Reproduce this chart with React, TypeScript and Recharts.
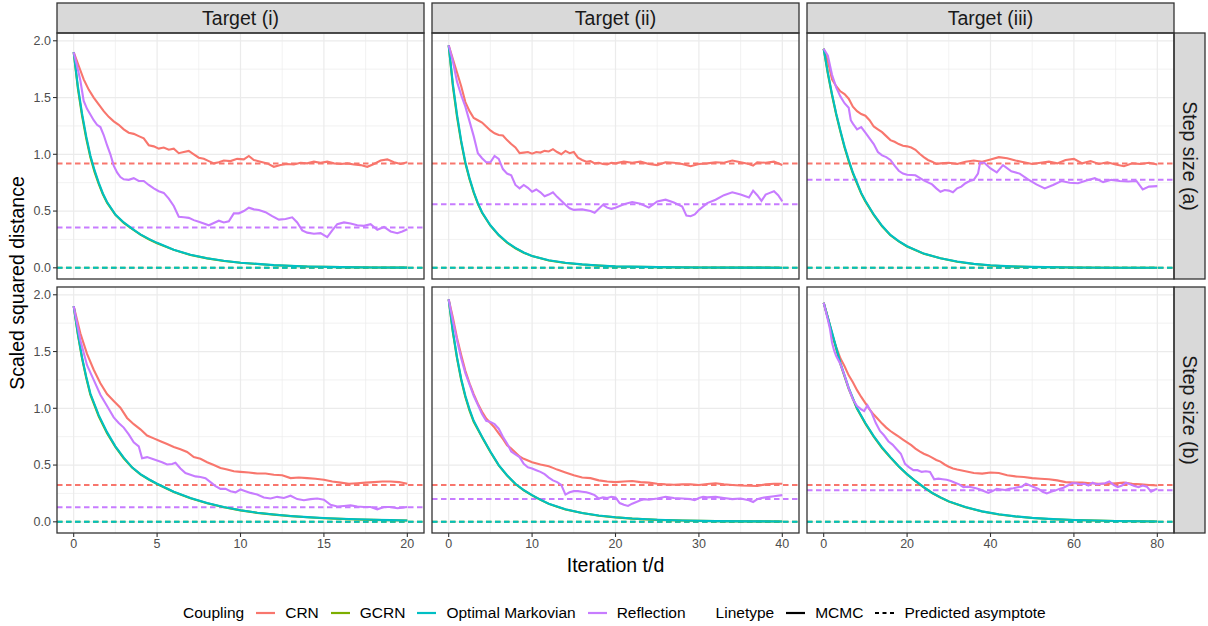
import React from 'react';
import { LineChart, Line, XAxis, YAxis, CartesianGrid, ReferenceLine } from 'recharts';

const FONT = '"Liberation Sans", Arial, Helvetica, sans-serif';

// ---------- labels ----------
const TARGETS = ['Target (i)', 'Target (ii)', 'Target (iii)'];
const STEP_SIZES = ['Step size (a)', 'Step size (b)'];
const COUPLINGS = ['CRN', 'GCRN', 'Optimal Markovian', 'Reflection'];
const COUPLING_COLORS = ['#F8766D', '#7CAE00', '#00BFC4', '#C77CFF'];
const LINETYPES = ['MCMC', 'Predicted asymptote'];
const X_TITLE = 'Iteration t/d';
const Y_TITLE = 'Scaled squared distance';

// ---------- axes ----------
const X_DOMAINS = [[-1, 21], [-2, 42], [-4, 84]];
const X_TICKS = [[0, 5, 10, 15, 20], [0, 10, 20, 30, 40], [0, 20, 40, 60, 80]];
const X_MINOR = [[2.5, 7.5, 12.5, 17.5], [5, 15, 25, 35], [10, 30, 50, 70]];
const Y_DOMAIN = [-0.0985, 2.0685];
const Y_TICKS = [0, 0.5, 1, 1.5, 2];
const Y_MINOR = [0.25, 0.75, 1.25, 1.75];

// ---------- predicted asymptotes (CRN, GCRN, Optimal Markovian, Reflection) ----------
const ASYM_A = [[0.92, 0, 0, 0.355], [0.92, 0, 0, 0.56], [0.92, 0, 0, 0.775]];
const ASYM_B = [[0.325, 0, 0, 0.128], [0.325, 0, 0, 0.2], [0.325, 0, 0, 0.278]];

// ---------- smooth couplings (GCRN / Optimal Markovian) ----------
const T_S_I_A = [0, 0.25, 0.5, 0.75, 1, 1.25, 1.5, 1.75, 2, 2.5, 3, 3.5, 4, 4.5, 5, 6, 7, 8, 9, 10, 12, 14, 16, 18, 20];
const OM_I_A = [1.9, 1.6, 1.36, 1.16, 0.99, 0.86, 0.75, 0.655, 0.58, 0.47, 0.4, 0.345, 0.295, 0.255, 0.22, 0.16, 0.115, 0.085, 0.062, 0.045, 0.024, 0.012, 0.006, 0.003, 0.002];
const GCRN_I_A = [1.9, 1.58, 1.34, 1.14, 0.975, 0.845, 0.74, 0.648, 0.574, 0.466, 0.396, 0.342, 0.292, 0.252, 0.217, 0.158, 0.113, 0.083, 0.06, 0.044, 0.023, 0.011, 0.006, 0.003, 0.002];

const T_S_II_A = [0, 0.5, 1, 1.5, 2, 2.5, 3, 3.5, 4, 5, 6, 7, 8, 9, 10, 12, 14, 16, 18, 20, 25, 30, 35, 40];
const OM_II_A = [1.96, 1.62, 1.35, 1.12, 0.93, 0.79, 0.67, 0.57, 0.49, 0.375, 0.29, 0.225, 0.175, 0.135, 0.105, 0.066, 0.044, 0.03, 0.02, 0.013, 0.006, 0.003, 0.002, 0.001];
const GCRN_II_A = [1.96, 1.6, 1.33, 1.105, 0.92, 0.78, 0.662, 0.564, 0.485, 0.371, 0.287, 0.222, 0.172, 0.133, 0.103, 0.065, 0.043, 0.029, 0.019, 0.012, 0.006, 0.003, 0.002, 0.001];

const T_S_III_A = [0, 1, 2, 3, 4, 5, 6, 7, 8, 9, 10, 12, 14, 16, 18, 20, 24, 28, 32, 36, 40, 45, 50, 60, 70, 80];
const OM_III_A = [1.93, 1.72, 1.53, 1.36, 1.21, 1.07, 0.95, 0.84, 0.75, 0.66, 0.59, 0.47, 0.37, 0.29, 0.235, 0.19, 0.125, 0.085, 0.055, 0.035, 0.022, 0.013, 0.008, 0.003, 0.001, 0];
const GCRN_III_A = [1.93, 1.71, 1.52, 1.35, 1.2, 1.06, 0.94, 0.832, 0.742, 0.655, 0.585, 0.466, 0.366, 0.287, 0.232, 0.188, 0.124, 0.084, 0.054, 0.034, 0.021, 0.012, 0.007, 0.003, 0.001, 0];

const T_S_I_B = [0, 0.25, 0.5, 0.75, 1, 1.5, 2, 2.5, 3, 3.5, 4, 4.5, 5, 6, 7, 8, 9, 10, 11, 12, 13, 14, 15, 16, 17, 18, 19, 20];
const OM_I_B = [1.9, 1.66, 1.45, 1.28, 1.13, 0.94, 0.79, 0.665, 0.565, 0.48, 0.42, 0.375, 0.335, 0.265, 0.21, 0.165, 0.13, 0.102, 0.08, 0.064, 0.051, 0.041, 0.033, 0.027, 0.022, 0.018, 0.015, 0.012];
const GCRN_I_B = [1.9, 1.65, 1.44, 1.27, 1.12, 0.93, 0.78, 0.66, 0.56, 0.478, 0.418, 0.373, 0.333, 0.263, 0.208, 0.164, 0.129, 0.101, 0.079, 0.063, 0.05, 0.04, 0.032, 0.026, 0.021, 0.017, 0.014, 0.011];

const T_S_II_B = [0, 0.5, 1, 1.5, 2, 2.5, 3, 4, 5, 6, 7, 8, 9, 10, 11, 12, 13, 14, 16, 18, 20, 22, 25, 28, 32, 36, 40];
const OM_II_B = [1.96, 1.68, 1.45, 1.26, 1.11, 0.99, 0.89, 0.75, 0.62, 0.5, 0.41, 0.335, 0.28, 0.235, 0.195, 0.16, 0.135, 0.11, 0.078, 0.055, 0.04, 0.029, 0.018, 0.011, 0.006, 0.004, 0.003];
const GCRN_II_B = [1.96, 1.67, 1.44, 1.25, 1.1, 0.98, 0.88, 0.745, 0.615, 0.497, 0.407, 0.333, 0.278, 0.233, 0.193, 0.158, 0.133, 0.109, 0.077, 0.054, 0.039, 0.028, 0.017, 0.011, 0.006, 0.004, 0.003];

const T_S_III_B = [0, 2, 4, 6, 8, 10, 12, 14, 16, 18, 20, 22, 24, 26, 28, 30, 34, 38, 42, 46, 50, 55, 60, 65, 70, 75, 80];
const OM_III_B = [1.93, 1.67, 1.4, 1.18, 1.0, 0.87, 0.755, 0.655, 0.57, 0.49, 0.42, 0.36, 0.305, 0.255, 0.215, 0.18, 0.13, 0.092, 0.066, 0.048, 0.035, 0.024, 0.016, 0.011, 0.007, 0.005, 0.003];
const GCRN_III_B = [1.93, 1.66, 1.39, 1.17, 0.995, 0.865, 0.75, 0.65, 0.566, 0.487, 0.418, 0.358, 0.303, 0.254, 0.214, 0.179, 0.129, 0.091, 0.065, 0.047, 0.034, 0.023, 0.016, 0.011, 0.007, 0.005, 0.003];

// ---------- noisy couplings (CRN / Reflection), [t/d, distance] ----------
const CRN_I_A = [[0, 1.9], [0.3, 1.78], [0.6, 1.66], [0.9, 1.57], [1.2, 1.5], [1.5, 1.44], [1.8, 1.38], [2.1, 1.33], [2.4, 1.29], [2.7, 1.26], [3.0, 1.22], [3.3, 1.19], [3.6, 1.18], [3.9, 1.16], [4.2, 1.14], [4.5, 1.08], [4.8, 1.07], [5.1, 1.05], [5.4, 1.06], [5.7, 1.04], [6.0, 1.05], [6.3, 1.01], [6.6, 1.02], [6.9, 1.03], [7.2, 1.0], [7.5, 0.97], [7.8, 0.96], [8.1, 0.94], [8.4, 0.92], [8.7, 0.93], [9.0, 0.945], [9.4, 0.94], [9.8, 0.96], [10.2, 0.955], [10.5, 0.985], [10.8, 0.95], [11.2, 0.935], [11.6, 0.92], [12.0, 0.89], [12.4, 0.905], [12.8, 0.915], [13.2, 0.91], [13.6, 0.925], [14.0, 0.92], [14.4, 0.935], [14.8, 0.925], [15.2, 0.935], [15.6, 0.92], [16.0, 0.915], [16.4, 0.92], [16.8, 0.91], [17.2, 0.905], [17.6, 0.89], [18.0, 0.915], [18.4, 0.945], [18.8, 0.955], [19.2, 0.93], [19.6, 0.915], [20, 0.93]];
const REF_I_A = [[0, 1.9], [0.2, 1.78], [0.4, 1.65], [0.6, 1.47], [0.8, 1.4], [1.0, 1.35], [1.2, 1.3], [1.4, 1.26], [1.6, 1.24], [1.8, 1.17], [2.0, 1.08], [2.2, 1.0], [2.4, 0.9], [2.6, 0.84], [2.8, 0.8], [3.0, 0.78], [3.3, 0.775], [3.6, 0.79], [3.9, 0.765], [4.2, 0.765], [4.5, 0.73], [4.8, 0.7], [5.1, 0.675], [5.4, 0.66], [5.7, 0.61], [6.0, 0.545], [6.3, 0.45], [6.6, 0.445], [6.9, 0.44], [7.2, 0.42], [7.5, 0.405], [7.8, 0.39], [8.1, 0.375], [8.4, 0.395], [8.7, 0.415], [9.0, 0.4], [9.3, 0.41], [9.6, 0.48], [9.9, 0.48], [10.2, 0.5], [10.5, 0.53], [10.8, 0.515], [11.1, 0.51], [11.5, 0.49], [11.9, 0.455], [12.3, 0.425], [12.7, 0.43], [13.1, 0.445], [13.4, 0.4], [13.7, 0.33], [14.0, 0.31], [14.4, 0.3], [14.8, 0.305], [15.2, 0.27], [15.5, 0.33], [15.8, 0.385], [16.2, 0.4], [16.6, 0.39], [17.0, 0.375], [17.4, 0.37], [17.8, 0.385], [18.2, 0.335], [18.6, 0.36], [19.0, 0.32], [19.4, 0.305], [19.7, 0.32], [20, 0.34]];

const CRN_II_A = [[0, 1.96], [0.5, 1.84], [1, 1.72], [1.5, 1.6], [2, 1.46], [2.5, 1.38], [3, 1.32], [3.5, 1.3], [4, 1.28], [4.5, 1.245], [5, 1.21], [5.5, 1.185], [6, 1.17], [6.5, 1.165], [7, 1.125], [7.5, 1.09], [8, 1.06], [8.5, 1.01], [9, 1.015], [9.5, 1.02], [10, 1.005], [10.5, 1.02], [11, 1.015], [11.5, 1.03], [12, 1.025], [12.5, 1.045], [13, 1.02], [13.5, 1.0], [14, 1.03], [14.5, 1.01], [15, 1.02], [15.5, 0.97], [16, 0.95], [16.5, 0.935], [17, 0.94], [17.5, 0.92], [18, 0.925], [18.5, 0.915], [19, 0.91], [19.5, 0.925], [20, 0.92], [21, 0.935], [22, 0.925], [23, 0.935], [24, 0.915], [25, 0.905], [26, 0.93], [27, 0.925], [28, 0.915], [29, 0.895], [30, 0.915], [31, 0.92], [32, 0.93], [33, 0.925], [34, 0.945], [35, 0.93], [36, 0.915], [36.5, 0.9], [37, 0.93], [38, 0.925], [39, 0.935], [40, 0.905]];
const REF_II_A = [[0, 1.96], [0.5, 1.82], [1, 1.64], [1.5, 1.52], [2, 1.42], [2.5, 1.29], [3, 1.16], [3.5, 1.01], [4, 0.965], [4.5, 0.93], [5, 0.93], [5.5, 0.985], [6, 0.96], [6.5, 0.87], [7, 0.83], [7.5, 0.815], [8, 0.73], [8.5, 0.7], [9, 0.73], [9.5, 0.705], [10, 0.67], [10.5, 0.69], [11, 0.665], [11.5, 0.63], [12, 0.645], [12.5, 0.665], [13, 0.625], [13.5, 0.59], [14, 0.555], [14.5, 0.525], [15, 0.51], [16, 0.515], [17, 0.5], [17.5, 0.485], [18, 0.52], [18.5, 0.555], [19, 0.53], [19.5, 0.52], [20, 0.53], [21, 0.56], [22, 0.58], [23, 0.565], [24, 0.53], [25, 0.585], [26, 0.6], [27, 0.575], [28, 0.54], [28.5, 0.46], [29, 0.455], [29.5, 0.47], [30, 0.51], [31, 0.57], [32, 0.6], [33, 0.64], [34, 0.665], [35, 0.645], [36, 0.62], [36.5, 0.68], [37, 0.64], [37.5, 0.59], [38, 0.645], [38.5, 0.66], [39, 0.675], [39.5, 0.64], [40, 0.585]];

const CRN_III_A = [[0, 1.93], [1, 1.82], [2, 1.66], [3, 1.6], [4, 1.555], [5, 1.53], [6, 1.49], [7, 1.42], [8, 1.38], [9, 1.355], [10, 1.34], [11, 1.3], [12, 1.245], [13, 1.22], [14, 1.195], [15, 1.16], [16, 1.125], [17, 1.11], [18, 1.09], [19, 1.075], [20, 1.07], [21, 1.06], [22, 1.04], [23, 1.005], [24, 0.975], [25, 0.95], [26, 0.935], [27, 0.915], [28, 0.92], [30, 0.925], [32, 0.915], [34, 0.935], [36, 0.945], [38, 0.935], [40, 0.955], [42, 0.975], [44, 0.965], [46, 0.945], [48, 0.93], [50, 0.915], [52, 0.925], [54, 0.935], [56, 0.92], [58, 0.95], [60, 0.96], [62, 0.92], [64, 0.94], [66, 0.915], [68, 0.93], [70, 0.91], [72, 0.895], [74, 0.92], [76, 0.915], [78, 0.925], [80, 0.91]];
const REF_III_A = [[0, 1.93], [1, 1.87], [2, 1.7], [3, 1.59], [4, 1.51], [5, 1.45], [6, 1.41], [6.5, 1.3], [7, 1.27], [8, 1.22], [9, 1.24], [10, 1.19], [11, 1.14], [12, 1.09], [13, 1.02], [14, 0.99], [15, 0.975], [16, 0.95], [17, 0.9], [18, 0.855], [19, 0.83], [20, 0.82], [22, 0.815], [24, 0.77], [26, 0.735], [27, 0.7], [28, 0.67], [29, 0.685], [30, 0.68], [31, 0.665], [32, 0.7], [33, 0.715], [34, 0.745], [35, 0.765], [36, 0.775], [37, 0.83], [37.5, 0.925], [38.5, 0.925], [40, 0.875], [41.5, 0.84], [43, 0.905], [45, 0.85], [47, 0.83], [49, 0.78], [51, 0.735], [53, 0.7], [55, 0.73], [57, 0.765], [59, 0.75], [61, 0.745], [63, 0.77], [65, 0.79], [67, 0.755], [69, 0.775], [71, 0.765], [73, 0.76], [75, 0.765], [76.5, 0.69], [78, 0.715], [80, 0.72]];

const CRN_I_B = [[0, 1.9], [0.4, 1.66], [0.8, 1.48], [1.2, 1.34], [1.6, 1.22], [2.0, 1.125], [2.4, 1.065], [2.8, 1.005], [3.2, 0.915], [3.6, 0.86], [4.0, 0.815], [4.4, 0.76], [4.8, 0.735], [5.2, 0.71], [5.6, 0.685], [6.0, 0.66], [6.4, 0.64], [6.8, 0.615], [7.2, 0.57], [7.6, 0.555], [8.0, 0.525], [8.4, 0.5], [8.8, 0.475], [9.2, 0.46], [9.6, 0.445], [10.0, 0.44], [10.5, 0.435], [11.0, 0.425], [11.5, 0.425], [12.0, 0.415], [12.5, 0.41], [13.0, 0.385], [13.5, 0.39], [14.0, 0.385], [14.5, 0.38], [15.0, 0.37], [15.5, 0.355], [16.0, 0.345], [16.5, 0.335], [17.0, 0.34], [17.5, 0.345], [18.0, 0.35], [18.5, 0.355], [19.0, 0.355], [19.5, 0.35], [20, 0.335]];
const REF_I_B = [[0, 1.9], [0.4, 1.6], [0.8, 1.38], [1.2, 1.25], [1.6, 1.12], [2.0, 1.02], [2.4, 0.92], [2.7, 0.87], [3.0, 0.83], [3.3, 0.77], [3.6, 0.7], [3.9, 0.665], [4.1, 0.56], [4.4, 0.57], [4.7, 0.555], [5.0, 0.54], [5.3, 0.525], [5.6, 0.505], [5.9, 0.51], [6.1, 0.52], [6.4, 0.47], [6.7, 0.43], [7.0, 0.415], [7.3, 0.4], [7.6, 0.395], [7.9, 0.385], [8.2, 0.35], [8.5, 0.315], [8.8, 0.29], [9.1, 0.29], [9.4, 0.27], [9.7, 0.26], [10.0, 0.285], [10.3, 0.27], [10.6, 0.255], [11.0, 0.24], [11.4, 0.215], [11.8, 0.205], [12.2, 0.22], [12.6, 0.21], [13.0, 0.23], [13.4, 0.2], [13.8, 0.19], [14.2, 0.2], [14.6, 0.205], [15.0, 0.195], [15.4, 0.15], [15.8, 0.135], [16.2, 0.14], [16.6, 0.145], [17.0, 0.135], [17.4, 0.13], [17.8, 0.13], [18.2, 0.11], [18.6, 0.13], [19.0, 0.13], [19.4, 0.12], [19.7, 0.125], [20, 0.13]];

const CRN_II_B = [[0, 1.96], [0.5, 1.8], [1, 1.62], [1.5, 1.47], [2, 1.33], [2.5, 1.22], [3, 1.125], [3.5, 1.04], [4, 0.97], [4.5, 0.91], [5, 0.87], [5.5, 0.83], [6, 0.78], [6.5, 0.73], [7, 0.675], [7.5, 0.645], [8, 0.61], [8.5, 0.575], [9, 0.555], [9.5, 0.54], [10, 0.525], [11, 0.505], [12, 0.49], [12.5, 0.475], [13, 0.46], [14, 0.435], [15, 0.41], [16, 0.39], [17, 0.385], [18, 0.365], [19, 0.355], [20, 0.35], [21, 0.355], [22, 0.36], [23, 0.35], [24, 0.345], [25, 0.335], [26, 0.33], [27, 0.327], [28, 0.33], [29, 0.33], [30, 0.325], [31, 0.333], [32, 0.34], [33, 0.33], [34, 0.325], [35, 0.32], [36, 0.318], [37, 0.315], [38, 0.33], [39, 0.335], [40, 0.335]];
const REF_II_B = [[0, 1.96], [0.5, 1.77], [1, 1.6], [1.5, 1.44], [2, 1.31], [2.5, 1.21], [3, 1.11], [3.5, 1.03], [4, 0.95], [4.5, 0.89], [5, 0.88], [5.5, 0.86], [6, 0.82], [6.5, 0.75], [7, 0.69], [7.5, 0.62], [8, 0.595], [8.5, 0.57], [9, 0.51], [9.5, 0.48], [10, 0.47], [10.5, 0.455], [11, 0.44], [11.5, 0.42], [12, 0.39], [12.5, 0.365], [13, 0.35], [13.5, 0.325], [14, 0.24], [14.5, 0.26], [15, 0.27], [15.5, 0.27], [16, 0.265], [16.5, 0.26], [17, 0.25], [17.5, 0.235], [18, 0.205], [18.5, 0.215], [19, 0.21], [19.5, 0.22], [20, 0.215], [20.5, 0.165], [21, 0.15], [21.5, 0.14], [22, 0.16], [22.5, 0.175], [23, 0.19], [23.5, 0.2], [24, 0.195], [25, 0.205], [26, 0.22], [27, 0.21], [28, 0.205], [29, 0.2], [29.5, 0.19], [30, 0.21], [30.5, 0.22], [31, 0.215], [32, 0.22], [33, 0.21], [34, 0.2], [35, 0.205], [36, 0.19], [36.5, 0.175], [37, 0.2], [37.5, 0.21], [38, 0.215], [39, 0.225], [40, 0.235]];

const CRN_III_B = [[0, 1.93], [1, 1.8], [2, 1.65], [3, 1.54], [4, 1.44], [5, 1.37], [6, 1.29], [7, 1.23], [8, 1.16], [9, 1.1], [10, 1.045], [11, 0.99], [12, 0.945], [13, 0.905], [14, 0.865], [15, 0.83], [16, 0.8], [17, 0.775], [18, 0.75], [19, 0.725], [20, 0.7], [21, 0.675], [22, 0.645], [23, 0.62], [24, 0.6], [25, 0.585], [26, 0.565], [27, 0.545], [28, 0.53], [29, 0.505], [30, 0.485], [31, 0.47], [32, 0.46], [34, 0.445], [36, 0.43], [38, 0.425], [40, 0.435], [42, 0.43], [44, 0.41], [46, 0.4], [48, 0.395], [50, 0.385], [52, 0.38], [54, 0.375], [56, 0.365], [58, 0.35], [60, 0.345], [62, 0.345], [64, 0.34], [66, 0.335], [68, 0.335], [70, 0.34], [72, 0.345], [74, 0.335], [76, 0.33], [78, 0.325], [80, 0.32]];
const REF_III_B = [[0, 1.93], [1, 1.78], [1.5, 1.7], [2, 1.58], [2.5, 1.51], [3, 1.46], [4, 1.39], [5, 1.29], [6, 1.175], [7, 1.08], [8, 1.02], [9, 0.99], [9.7, 0.975], [10.5, 1.025], [11.5, 0.96], [12.5, 0.87], [13.5, 0.8], [14.5, 0.76], [15.5, 0.71], [16.5, 0.68], [17.5, 0.64], [18.5, 0.6], [19.5, 0.51], [20.5, 0.48], [21.5, 0.455], [22.5, 0.455], [23.5, 0.44], [24.5, 0.445], [25.5, 0.44], [26.5, 0.375], [27.5, 0.38], [28.5, 0.375], [29.5, 0.37], [30.5, 0.36], [31.5, 0.345], [32.5, 0.33], [33.5, 0.305], [34.5, 0.31], [35.5, 0.305], [36.5, 0.295], [37.5, 0.285], [38.5, 0.27], [39.5, 0.255], [40.5, 0.27], [41.5, 0.29], [42.5, 0.285], [43.5, 0.28], [44.5, 0.29], [45.5, 0.295], [46.5, 0.305], [47.5, 0.31], [48.5, 0.335], [49.5, 0.32], [50.5, 0.305], [51.5, 0.29], [52.5, 0.265], [53.5, 0.25], [54.5, 0.265], [55.5, 0.275], [56.5, 0.29], [57.5, 0.3], [58.5, 0.32], [59.5, 0.34], [60.5, 0.34], [61.5, 0.33], [62.5, 0.335], [63.5, 0.32], [64.5, 0.345], [65.5, 0.33], [66.5, 0.335], [67.5, 0.34], [68.5, 0.355], [69.5, 0.325], [70.5, 0.305], [71.5, 0.32], [72.5, 0.345], [73.5, 0.33], [74.5, 0.315], [75.5, 0.305], [76.5, 0.32], [77.5, 0.31], [78.5, 0.265], [79.5, 0.285], [80, 0.29]];

// ---------- layout ----------
const COL_LEFT = [57, 432, 807];
const ROW_TOP = [33, 287];
const PW = 367;
const PH = 246;
const Y_AXIS_W = 50;
const X_AXIS_H = 30;
const STRIP_TOP = 3;
const STRIP_W = 31;

type Pt = { x: number; y: number };
const fromPairs = (p: number[][]): Pt[] => p.map(([x, y]) => ({ x, y }));
const fromXY = (xs: number[], ys: number[]): Pt[] => xs.map((x, i) => ({ x, y: ys[i] }));

const PANELS = [
  [
    { series: [fromPairs(CRN_I_A), fromXY(T_S_I_A, GCRN_I_A), fromXY(T_S_I_A, OM_I_A), fromPairs(REF_I_A)], asym: ASYM_A[0] },
    { series: [fromPairs(CRN_II_A), fromXY(T_S_II_A, GCRN_II_A), fromXY(T_S_II_A, OM_II_A), fromPairs(REF_II_A)], asym: ASYM_A[1] },
    { series: [fromPairs(CRN_III_A), fromXY(T_S_III_A, GCRN_III_A), fromXY(T_S_III_A, OM_III_A), fromPairs(REF_III_A)], asym: ASYM_A[2] },
  ],
  [
    { series: [fromPairs(CRN_I_B), fromXY(T_S_I_B, GCRN_I_B), fromXY(T_S_I_B, OM_I_B), fromPairs(REF_I_B)], asym: ASYM_B[0] },
    { series: [fromPairs(CRN_II_B), fromXY(T_S_II_B, GCRN_II_B), fromXY(T_S_II_B, OM_II_B), fromPairs(REF_II_B)], asym: ASYM_B[1] },
    { series: [fromPairs(CRN_III_B), fromXY(T_S_III_B, GCRN_III_B), fromXY(T_S_III_B, OM_III_B), fromPairs(REF_III_B)], asym: ASYM_B[2] },
  ],
];

const TICK_STYLE = { fill: '#4D4D4D', fontSize: 12.5, fontFamily: FONT };

function Panel({ row, col }: { row: number; col: number }) {
  const p = PANELS[row][col];
  const showY = col === 0;
  const showX = row === 1;
  const yw = showY ? Y_AXIS_W : 0;
  const xh = showX ? X_AXIS_H : 0;
  return (
    <div style={{ position: 'absolute', left: COL_LEFT[col] - yw, top: ROW_TOP[row] }}>
      <LineChart width={PW + yw} height={PH + xh} margin={{ top: 0, right: 0, bottom: 0, left: 0 }}>
        <CartesianGrid horizontalValues={Y_MINOR} verticalValues={X_MINOR[col]} stroke="#EDEDED" strokeWidth={0.7} />
        <CartesianGrid horizontalValues={Y_TICKS} verticalValues={X_TICKS[col]} stroke="#EBEBEB" strokeWidth={1.2} />
        <XAxis
          type="number"
          dataKey="x"
          domain={X_DOMAINS[col]}
          ticks={X_TICKS[col]}
          interval={0}
          allowDataOverflow
          hide={!showX}
          height={X_AXIS_H}
          axisLine={false}
          tickLine={{ stroke: '#333333', strokeWidth: 1.1 }}
          tickSize={4}
          tickMargin={2}
          tick={TICK_STYLE}
        />
        <YAxis
          type="number"
          dataKey="y"
          domain={Y_DOMAIN}
          ticks={Y_TICKS}
          interval={0}
          allowDataOverflow
          hide={!showY}
          width={Y_AXIS_W}
          axisLine={false}
          tickLine={{ stroke: '#333333', strokeWidth: 1.1 }}
          tickSize={4}
          tickMargin={2}
          tick={TICK_STYLE}
          tickFormatter={(v: number) => v.toFixed(1)}
        />
        {p.asym.map((v, i) => (
          <ReferenceLine key={'asym' + i} y={v} stroke={COUPLING_COLORS[i]} strokeWidth={2} strokeDasharray="5.5 3.5" />
        ))}
        {p.series.map((s, i) => (
          <Line
            key={COUPLINGS[i]}
            data={s}
            dataKey="y"
            type="linear"
            stroke={COUPLING_COLORS[i]}
            strokeWidth={2.1}
            dot={false}
            activeDot={false}
            isAnimationActive={false}
          />
        ))}
      </LineChart>
    </div>
  );
}

function Overlay() {
  const text = { fontFamily: FONT };
  return (
    <svg width={1208} height={626} style={{ position: 'absolute', left: 0, top: 0, pointerEvents: 'none' }}>
      {TARGETS.map((t, c) => (
        <g key={t}>
          <rect x={COL_LEFT[c]} y={STRIP_TOP} width={PW} height={ROW_TOP[0] - STRIP_TOP} fill="#D9D9D9" stroke="#333333" strokeWidth={1.3} />
          <text x={COL_LEFT[c] + PW / 2} y={25} textAnchor="middle" fontSize={19.5} fill="#1A1A1A" style={text}>{t}</text>
        </g>
      ))}
      {STEP_SIZES.map((s, r) => (
        <g key={s}>
          <rect x={COL_LEFT[2] + PW} y={ROW_TOP[r]} width={STRIP_W} height={PH} fill="#D9D9D9" stroke="#333333" strokeWidth={1.3} />
          <text transform={`translate(${COL_LEFT[2] + PW + STRIP_W / 2}, ${ROW_TOP[r] + PH / 2}) rotate(90)`} y={7} textAnchor="middle" fontSize={19.5} fill="#1A1A1A" style={text}>{s}</text>
        </g>
      ))}
      {ROW_TOP.map((top, r) =>
        COL_LEFT.map((left, c) => (
          <rect key={r + '-' + c} x={left} y={top} width={PW} height={PH} fill="none" stroke="#333333" strokeWidth={1.3} />
        ))
      )}
      <text x={(COL_LEFT[0] + COL_LEFT[2] + PW) / 2} y={571.5} textAnchor="middle" fontSize={19.5} fill="#000000" style={text}>{X_TITLE}</text>
      <text transform={`translate(24, ${(ROW_TOP[0] + ROW_TOP[1] + PH) / 2}) rotate(-90)`} textAnchor="middle" fontSize={19.5} fill="#000000" style={text}>{Y_TITLE}</text>
    </svg>
  );
}

function Key({ color, dashed }: { color: string; dashed?: boolean }) {
  return (
    <svg width={19} height={10} style={{ display: 'block', marginLeft: 12, marginRight: 10 }}>
      <line x1={0} y1={5} x2={19} y2={5} stroke={color} strokeWidth={2.2} strokeDasharray={dashed ? '4 3.5' : undefined} />
    </svg>
  );
}

function Legend() {
  return (
    <div
      style={{
        position: 'absolute',
        left: 183,
        top: 600,
        height: 25,
        display: 'flex',
        alignItems: 'center',
        fontFamily: FONT,
        fontSize: 15.5,
        color: '#000000',
        whiteSpace: 'nowrap',
      }}
    >
      <span>Coupling</span>
      {COUPLINGS.map((c, i) => (
        <React.Fragment key={c}>
          <Key color={COUPLING_COLORS[i]} />
          <span>{c}</span>
        </React.Fragment>
      ))}
      <span style={{ marginLeft: 30 }}>Linetype</span>
      <Key color="#000000" />
      <span>{LINETYPES[0]}</span>
      <Key color="#000000" dashed />
      <span>{LINETYPES[1]}</span>
    </div>
  );
}

export default function App() {
  return (
    <div style={{ position: 'absolute', left: 0, top: 0, width: 1208, height: 626, background: '#FFFFFF', overflow: 'hidden' }}>
      {ROW_TOP.map((_, r) => COL_LEFT.map((__, c) => <Panel key={r + '-' + c} row={r} col={c} />))}
      <Overlay />
      <Legend />
    </div>
  );
}
